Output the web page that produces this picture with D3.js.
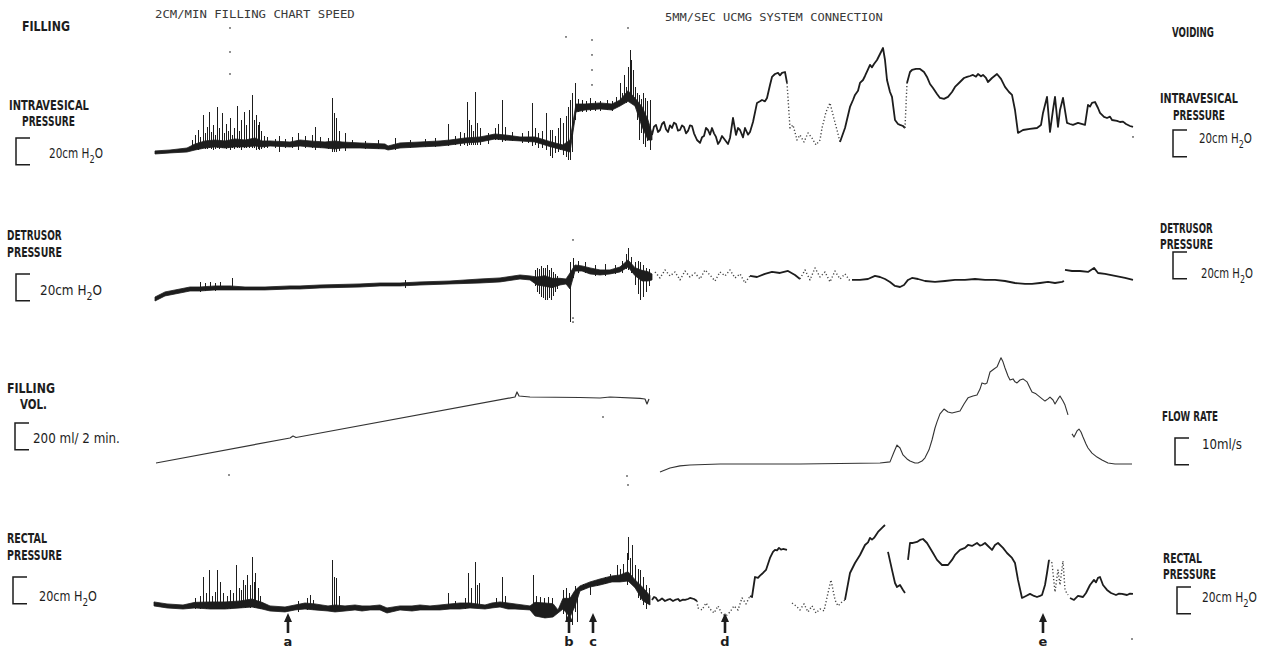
<!DOCTYPE html>
<html>
<head>
<meta charset="utf-8">
<script src="https://cdn.jsdelivr.net/npm/d3@7"></script>
<style>
  body { margin: 0; background: #fff; }
  svg { display: block; }
</style>
</head>
<body>
<svg id="chart" width="1269" height="648"></svg>
<script>
// time runs 0..1000 chart units across the paper; filling phase then voiding phase

// intravesical pressure (cm H2O), filling phase: [t, low edge, high edge] of the pen band
const ivFillBand = [[5,4.5,6.8],[20,5.3,7.5],[37,6,9],[45,7.5,12],[55,9,14.3],[65,9.8,15],[75,9,14.3],[85,9.8,15.8],[95,9.8,15],[105,10.5,16.5],[112,9.8,14.3],[120,10.5,14.3],[140,9.8,13.5],[150,10.5,15],[160,9.8,14.3],[175,9,13.5],[185,8.3,14.3],[192,9,13.5],[210,9,12.8],[235,8.3,12],[238,7.5,10.5],[250,9,12.8],[270,9.8,13.5],[290,10.5,14.3],[300,11.3,15],[315,12.8,16.5],[330,13.5,17.3],[345,15.8,19.5],[355,15,18.8],[370,14.3,17.3],[385,13.5,17.3],[398,10.5,14.3],[405,9,12.8],[413,7.5,11.3],[420,6,15],[426,36,42],[435,37.5,42],[450,38.3,42.8],[462,37.5,42],[470,40.5,45],[478,44,52],[485,40.5,46.5],[492,25,40],[498,15,30],[502,15,20]];
// pen spikes: [t, top, bottom]
const ivFillSpikes = [[42,15,8],[45,19,7.5],[48,22.5,7.5],[50,17,8],[53,33.8,9],[55,20,8],[57,25,8.3],[59,36,9],[61,21,8],[63,26.3,7.5],[65,19,8.3],[67,39.8,9],[69,24,8.3],[72,35.3,9],[74,20,9],[76,27,8.3],[78,22,9],[80,31.5,7.5],[82,19,9],[84,24,8.3],[87,40.5,9],[89,22,9],[91,30,7.5],[94,36,9],[96,26,9],[99,37.5,9],[102,48.8,9],[104,30,9],[106,33.8,7.5],[108,26,8.3],[109,28.5,7.5],[111,22,8.3],[114,18,9],[117,17,9],[125,16,9],[129,18,6],[135,15.8,9],[142,17,9],[148,20.3,7.5],[155,18,9],[162,19,9],[165,24.8,7.5],[170,17,9],[178,16.5,8],[182,46.5,6],[184,35,6],[186,31.5,6],[189,22,7],[195,20.3,6.8],[202,15,9],[215,14.5,8.3],[228,15,8],[245,16.5,7.5],[260,15,9],[275,15.8,9.8],[285,16.5,9.8],[298,27,10.5],[305,18,11],[310,21,10.5],[314,20,11],[317,43.5,10.5],[319,30,11],[321,26.3,11.3],[323,22,11],[325,51,11.3],[327,28,11],[330,24,11.3],[338,20,12],[345,24,15],[348,27,15],[352,45,13.5],[355,25,14],[362,21,14],[372,20,13],[378,22,13],[382,42.8,10.5],[385,24,11],[388,20,9],[392,22,9],[396,35.3,7.5],[400,22.5,3],[402,22.5,1.5],[405,18,5],[408,24,6],[410,31.5,7.5],[413,28,4],[416,33,2],[418,40,0],[420,45,0],[422,50,6],[425,57.8,30],[428,46,36],[432,45,36],[436,44,36],[440,46.5,36.8],[445,44,37],[450,44.5,37],[457,45,37.5],[462,44,37],[466,47,40],[470,57.8,41.3],[472,50,42],[474,63.8,45],[476,55,43],[478,70,44],[480,82.5,45],[481,75,45],[483,67.5,43.5],[485,55,40],[487,50,30],[489,48.8,15],[491,46,20],[493,50,12],[495,46.5,9.8],[497,44,14],[500,45,7.5]];
// voiding phase: [t, cm H2O]; solid pen and faint (skipping) pen runs
const ivVoidSolid = [
  [[502,18.8],[504,25],[506,26.3],[508,21],[510,22.5],[512,27],[514,28.5],[516,23],[518,21],[520,26],[522,24],[524,28],[526,27],[528,22],[530,22.5],[532,26],[534,24.8],[536,20],[538,21.8],[540,26],[542,25.5],[544,20],[547,15],[550,12.8],[552,17],[554,18],[556,24],[558,22.5],[560,19],[562,24],[564,20],[566,17.3],[568,12],[570,14.3],[572,18],[575,15],[578,12],[580,16.5],[583,31.5],[586,18.8],[588,24],[590,22.5],[593,17],[595,24],[598,19],[600,21],[603,28.5],[607,42.8],[610,44],[612,45],[615,44],[617,46.5],[620,56.3],[622,62.3],[625,64.5],[628,65.3],[630,63.5],[632,65.3],[635,66],[637,57.8]],
  [[690,13.5],[695,24],[700,39.8],[703,45],[705,48.8],[708,52],[710,57.8],[713,60],[715,63],[718,68],[720,71.3],[722,69.5],[724,72],[727,75],[730,79.5],[733,84],[735,75],[737,60],[740,51],[742,47.3],[745,30],[748,27],[750,26.3],[753,25.5],[755,24]],
  [[757,57.8],[760,66],[762,67.5],[766,68.3],[770,68.3],[774,66],[777,62.3],[780,57],[783,54],[787,49.5],[790,46.5],[794,45.8],[798,47.3],[802,51],[805,54.8],[810,58.5],[814,61.5],[817,62.3],[820,63],[823,63.8],[826,62.5],[828,64.5],[831,62.8],[833,63.8],[836,61.5],[838,58.5],[842,61.5],[847,64.5],[851,60.8],[855,54.8],[859,51],[862,48.8],[865,37.5],[868,20.3],[873,22.5],[880,23.3],[887,24],[891,26.3],[893,35.3],[897,47.3],[900,21],[903,37.5],[905,47.3],[908,24.8],[910,37.5],[913,46.5],[917,27.8],[920,27],[923,26.3],[928,27.8],[935,26.3],[938,41.3],[940,40],[942,42.8],[945,43.5],[948,39],[950,35.3],[954,32.3],[957,31.5],[960,32.5],[962,30],[967,29.3],[970,28.5],[973,28.8],[976,27],[980,25.5],[983,24.8]]
];
const ivVoidFaint = [
  [[637,57.8],[640,24],[643,26.3],[647,15],[650,18.8],[654,13.5],[658,20.3],[662,16.5],[666,11.3],[670,15],[672,24],[676,36],[680,42.8],[683,33.8],[687,22.5],[690,13.5]],
  [[755,24],[757,57.8]]
];
const ivMarks = [[80,99],[80,81],[80,64.5],[416,92.3],[442,90],[442,78.8],[442,67.5],[442,56.3],[478,99],[983,17.3]];

// detrusor pressure (cm H2O)
const detFillBand = [[5,3,6],[15,6.8,9.8],[30,9,12],[40,10.5,13.5],[50,10.5,13.5],[65,11.3,14.3],[80,11.3,14.3],[95,11.3,13.5],[115,11.3,13.5],[140,12,14.3],[150,12,14.3],[170,12.8,15],[210,13.5,15.8],[230,14.3,16.5],[250,14.3,16.5],[270,15,17.3],[300,15.8,18],[330,16.5,19.5],[350,17.3,20.3],[370,19.5,22.5],[380,18.8,21.8],[387,15,21],[395,14,22],[402,13,20],[410,15,20],[416,15.8,19.5],[420,12,24],[425,25.5,30],[432,25.5,29.3],[440,23.3,27.8],[450,22.5,26.3],[460,23.3,26.3],[470,24.8,28.5],[478,28.5,33.8],[485,22,28],[492,18,26],[498,18,25],[502,18.8,23.3]];
const detFillSpikes = [[50,17,10],[55,16.5,10.5],[60,17,11],[65,16.5,10.5],[70,17,11],[82,20.3,11.3],[255,18.8,12.8],[385,26,14],[387,28,10],[389,27,8],[391,29,6],[393,28,5],[395,27.8,4],[397,30,3.8],[399,26,5],[401,28,4],[403,25,7],[405,23,10],[407,22,12],[420,32.3,-12.8],[423,35,20],[428,33,24],[435,32,24],[445,30,22],[455,31,22],[465,30,23],[472,33,24],[476,38,27],[478,42.8,26.3],[481,36,24],[485,32,15],[488,33,8],[490,32.3,3.8],[493,30,6],[496,28,10],[499,27,14]];
const detVoidSolid = [
  [[600,21.8],[607,21],[615,23.3],[622,24.8],[630,24],[638,25.5],[645,22.5],[650,19.5]],
  [[702,18.8],[710,18.8],[718,19.5],[725,21.8],[730,21],[735,19.5],[740,17.3],[745,14.3],[750,13.5],[754,15],[758,18.8],[762,20.3],[768,19.5],[775,18],[785,17.3],[795,18],[805,18.8],[815,18.8],[825,19.5],[835,18.8],[845,18.8],[855,18],[865,16.5],[875,15.8],[882,15.8],[890,16.5],[898,17.3],[905,16.5],[912,17.3],[914,18]],
  [[915,26.3],[922,25.5],[930,25.5],[938,24.8],[944,27.8],[948,24],[955,23.3],[965,21.8],[975,20.3],[983,18.8]]
];
const detVoidFaint = [
  [[505,24.8],[510,20.3],[515,26.3],[520,21.8],[525,24.8],[530,18.8],[535,25.5],[540,21],[545,24],[550,19.5],[555,26.3],[560,22.5],[565,18],[570,24.8],[575,21.8],[580,26.3],[585,20.3],[590,23.3],[595,16.5],[600,21.8]],
  [[650,19.5],[655,26.3],[660,18.8],[665,27.8],[670,21],[675,24.8],[680,17.3],[685,25.5],[690,19.5],[695,23.3],[700,18]]
];
const detMarks = [[423,48.8],[423,-9.8],[423,-12.8]];

// filling volume (ml)
const volPoints = [[6,0],[140,187.5],[143,202.5],[146,191],[365,495],[367,532.5],[369,502.5],[380,495],[430,491],[450,487.5],[460,495],[490,484],[495,480],[497,442.5],[499,480]];
const volMarks = [[79,-90],[477,-97.5],[453,345]];

// flow rate (ml/s)
const flowRuns = [
  [[510,0],[520,1.5],[530,2.3],[540,2.6],[570,3],[650,3],[730,3.4],[740,3.8],[744,7.5],[747,10.1],[750,9],[753,6.4],[757,4.9],[760,4.1],[765,3.4],[768,3.4],[772,4.1],[775,5.3],[779,8.3],[782,12],[785,16.5],[787,18.8],[790,21.8],[794,23.6],[798,22.5],[802,22.1],[806,22.5],[810,22.9],[814,25.5],[818,27.8],[823,28.5],[827,28.9],[830,31.1],[832,33.4],[835,33],[837,33.4],[840,37.5],[844,38.6],[847,39.4],[850,42],[851,42.8],[853,41.3],[855,39],[858,36],[860,34.5],[863,34.9],[865,33.8],[867,33.4],[870,34.5],[873,34.9],[877,33.8],[880,31.5],[882,30],[886,29.3],[890,28.1],[895,26.6],[898,27.4],[900,28.1],[903,27],[905,25.5],[908,27.4],[910,28.5],[913,26.6],[915,25.1],[918,21.4]],
  [[922,14.3],[924,13.1],[927,15.4],[929,16.1],[931,15],[933,13.1],[936,10.5],[938,9],[942,7.1],[947,5.6],[952,4.5],[958,3.4],[965,3],[975,3],[982,3]]
];

// rectal pressure (cm H2O)
const recFillBand = [[4,14.3,17.3],[17,12.8,15.8],[33,12,15],[45,12.8,17],[60,12,17.3],[75,12,17.3],[90,12.8,18],[102,13.5,19.5],[112,12,17],[120,10.5,14.3],[135,9.8,13.5],[145,11.3,15],[155,12,16.5],[165,11.3,15.8],[178,10.5,14.3],[185,9.8,15],[195,10.5,14.3],[205,11.3,15],[212,10.5,14.3],[220,11.3,14.3],[230,11.3,15],[237,9,12.8],[250,11.3,14.3],[262,10.5,14.3],[270,11.3,15],[280,11.3,14.3],[290,11.3,15],[300,12,15.8],[310,12,16.5],[320,12.8,16.5],[335,12,15],[342,12.8,16.5],[350,13.5,17.3],[358,12,16.5],[365,12,15.8],[380,11.3,14.3],[385,6.8,17],[395,5.3,16.5],[403,6,16],[408,9,11.3],[413,12,20],[420,6,20],[425,14,26],[430,25.5,29.3],[440,28.5,32.3],[450,30,34.5],[462,32.3,36.8],[470,32.3,37.5],[478,33,40],[485,28,34],[493,18,28],[500,15,22]];
const recFillSpikes = [[45,20,12],[50,22,12],[53,36,14.3],[56,24,12],[59,41.3,14.3],[62,22,12],[65,25,12],[67,41.3,14.3],[70,32.3,14.3],[73,24,12],[77,22,12],[80,26,12],[83,24,12.8],[86,45,15],[89,28,13],[91,26,13],[93,33.8,14.3],[95,30,13],[97,37.5,14.3],[100,30,13],[102,51,15],[104,32,13],[105,39,15],[108,28,13],[110,22,12],[148,18,10],[157,20,11],[160,22.5,12.8],[163,19,11],[182,48.8,12.8],[184,36,12],[186,35.3,11.3],[189,22,11],[298,24,13.5],[305,18,12],[315,20,12],[318,39,14.3],[321,28,13],[325,47.3,14.3],[327,30,13],[329,31.5,14.3],[346,20,14],[352,36,15],[355,22,14],[383,37.5,11.3],[386,22,8],[390,21,6],[394,20,5],[398,21,6],[402,20,6],[413,26,8],[416,28,4],[419,24,2],[422,22,0],[425,29,10],[427,26.3,2.3],[433,31,26],[440,31.5,22.5],[447,34,29],[455,36,31],[460,38,32],[467,45,33.8],[470,42,33],[473,46,34],[477,54,30],[478,66,48.8],[480,50,34],[482,60,33.8],[485,45,28],[488,42,20],[490,41.3,18.8],[493,36,15],[496,30,12],[499,28,16]];
const recVoidSolid = [
  [[502,18.8],[504,21],[506,20.3],[508,18],[510,18.8],[512,20],[515,18],[518,19],[520,19.5],[523,18],[525,18.8],[528,19.5],[530,18],[533,19],[535,18.8],[538,19.5],[540,20.3],[544,19.5],[547,18]],
  [[600,21.8],[602,21],[605,36],[608,35.3],[610,37],[613,39],[616,41.3],[620,50.3],[623,54.8],[625,56.3],[627,56],[629,57.8],[631,56.5],[633,57],[637,56.3]],
  [[695,18.8],[700,39],[705,46.5],[710,52.5],[715,60],[718,62],[720,65.3],[722,64],[724,65.3],[728,69.8],[732,72.8],[735,75]],
  [[738,54.8],[742,41.3],[745,31.5],[747,28.5],[750,30],[753,26.3],[755,24]],
  [[758,48.8],[760,61.5],[763,61.5],[767,62.3],[770,63.8],[773,64.5],[777,61.5],[780,57.8],[783,54],[787,48.8],[792,45],[798,45],[802,48.8],[805,52.5],[810,56.3],[815,57.8],[818,60],[822,59.3],[827,61.5],[830,59.5],[832,60],[835,61.5],[837,60],[842,56.3],[845,60],[848,61.5],[853,57.8],[857,54],[862,50.3],[865,46.5],[868,33.8],[872,20.3],[876,21.8],[880,23.3],[884,21.8],[887,21],[890,21.8],[892,22.5],[895,30],[897,39],[899,48.8]],
  [[920,20.3],[924,18.8],[928,21.8],[933,21],[936,24],[940,30],[944,33.8],[946,32],[948,35.3],[950,36],[953,30],[957,26.3],[961,24],[966,22.5],[969,23.5],[972,23.3],[977,22.5],[980,23.5],[983,23.3]]
];
const recVoidFaint = [
  [[547,18],[548,12.8],[552,11.3],[556,16.5],[560,12],[564,9],[568,14.3],[572,8.3],[576,6.8],[580,9.8],[584,14.3],[588,11.3],[592,20.3],[596,15.8],[600,21.8]],
  [[642,16.5],[646,14.3],[650,11.3],[654,15.8],[658,9.8],[662,14.3],[666,9],[670,12],[674,10.5],[678,24],[681,33.8],[685,18.8],[688,14.3],[692,17.3],[695,18.8]],
  [[899,48.8],[902,46.5],[905,24.8],[908,41.3],[910,30],[913,48],[915,26.3],[918,22.5]]
];
const recMarks = [[478,105],[982,-10.5]];

// event markers under the rectal trace
const eventLabels = ["a", "b", "c", "d", "e"];
const eventTimes = [138, 419, 443, 575, 893];

const ink = "#1d1d1d";
const svg = d3.select("#chart");

const x = d3.scaleLinear().domain([0, 1000]).range([150, 1150]);
// 20 cm H2O = 26.7 px on the paper
const yIv = d3.scaleLinear().domain([0, 20]).range([160, 133.33]);
const yDet = d3.scaleLinear().domain([0, 20]).range([305, 278.33]);
const yVol = d3.scaleLinear().domain([0, 200]).range([463, 436.33]);
const yFlow = d3.scaleLinear().domain([0, 10]).range([472, 445.33]);
const yRec = d3.scaleLinear().domain([0, 20]).range([625, 598.33]);

function drawBand(band, y) {
    svg.append("path")
        .datum(band)
        .attr("d", d3.area().x(d => x(d[0])).y0(d => y(d[1])).y1(d => y(d[2])))
        .attr("fill", ink)
        .attr("stroke", ink)
        .attr("stroke-width", 0.8);
}

function drawSpikes(spikes, y) {
    svg.append("g").selectAll("line")
        .data(spikes)
        .join("line")
        .attr("x1", d => Math.round(x(d[0])) + 0.5).attr("x2", d => Math.round(x(d[0])) + 0.5)
        .attr("y1", d => y(d[1])).attr("y2", d => y(d[2]))
        .attr("stroke", ink)
        .attr("stroke-width", 1.4)
        .attr("shape-rendering", "crispEdges");
}

function drawRuns(runs, y, width, dash, color) {
    const line = d3.line().x(d => x(d[0])).y(d => y(d[1]));
    svg.append("g").selectAll("path")
        .data(runs)
        .join("path")
        .attr("d", line)
        .attr("fill", "none")
        .attr("stroke", color || ink)
        .attr("stroke-width", width)
        .attr("stroke-linejoin", "round")
        .attr("stroke-dasharray", dash || null);
}

function drawMarks(marks, y) {
    svg.append("g").selectAll("rect")
        .data(marks)
        .join("rect")
        .attr("x", d => x(d[0]) - 0.8)
        .attr("y", d => y(d[1]) - 0.8)
        .attr("width", 1.6)
        .attr("height", 1.6)
        .attr("fill", "#555");
}

// traces
drawBand(ivFillBand, yIv);
drawSpikes(ivFillSpikes, yIv);
drawRuns(ivVoidSolid, yIv, 1.8);
drawRuns(ivVoidFaint, yIv, 1.4, "1.2 2.2", "#444");
drawMarks(ivMarks, yIv);

drawBand(detFillBand, yDet);
drawSpikes(detFillSpikes, yDet);
drawRuns(detVoidSolid, yDet, 1.8);
drawRuns(detVoidFaint, yDet, 1.4, "1.2 2.2", "#444");
drawMarks(detMarks, yDet);

drawRuns([volPoints], yVol, 1.2, null, "#333");
drawMarks(volMarks, yVol);
drawRuns(flowRuns, yFlow, 1.1, null, "#333");

drawBand(recFillBand, yRec);
drawSpikes(recFillSpikes, yRec);
drawRuns(recVoidSolid, yRec, 1.8);
drawRuns(recVoidFaint, yRec, 1.4, "1.2 2.2", "#444");
drawMarks(recMarks, yRec);

// event arrows
const ev = svg.append("g").selectAll("g")
    .data(eventLabels)
    .join("g")
    .attr("transform", (d, i) => `translate(${x(eventTimes[i])},0)`);
ev.append("path")
    .attr("d", "M0,613 L4,622 L1.3,622 L1.3,633 L-1.3,633 L-1.3,622 L-4,622 Z")
    .attr("fill", ink);
ev.append("text")
    .attr("y", 646)
    .attr("text-anchor", "middle")
    .attr("font-family", "DejaVu Sans, sans-serif")
    .attr("font-weight", "bold")
    .attr("font-size", 13)
    .attr("fill", ink)
    .text(d => d);

// text helpers: squeeze text to the width it has on the paper
function fit(sel, px, py, w) {
    const bw = sel.node().getBBox().width;
    sel.attr("transform", `translate(${px},${py}) scale(${w / bw},1)`);
    return sel;
}

function label(txt, px, py, w) {
    const t = svg.append("text")
        .attr("font-family", "DejaVu Sans Condensed, DejaVu Sans, sans-serif")
        .attr("font-weight", "bold")
        .attr("font-size", 14)
        .attr("fill", ink)
        .text(txt);
    fit(t, px, py, w);
}

function unit(txt, px, py, w, sub) {
    const t = svg.append("text")
        .attr("font-family", "DejaVu Sans Condensed, DejaVu Sans, sans-serif")
        .attr("font-size", 14)
        .attr("fill", ink);
    if (sub) {
        t.append("tspan").text(txt);
        t.append("tspan").attr("dy", 4.5).attr("font-size", 11).text("2");
        t.append("tspan").attr("dy", -4.5).text("O");
    } else {
        t.text(txt);
    }
    fit(t, px, py, w);
}

function header(txt, px, py, w) {
    const t = svg.append("text")
        .attr("font-family", "DejaVu Sans Mono, monospace")
        .attr("font-size", 11)
        .attr("fill", "#3a3a3a")
        .text(txt);
    fit(t, px, py, w);
}

function bracket(px, py, y) {
    const h = Math.abs(y(0) - y(y.domain()[1]));
    svg.append("path")
        .attr("d", `M${px + 14},${py} H${px} V${py + h} H${px + 14}`)
        .attr("fill", "none")
        .attr("stroke", ink)
        .attr("stroke-width", 1.5);
}

header("2CM/MIN FILLING CHART SPEED", 155, 18, 200);
header("5MM/SEC UCMG SYSTEM CONNECTION", 665, 21, 218);

label("FILLING", 22, 31, 48);
label("INTRAVESICAL", 9, 110, 80);
label("PRESSURE", 22, 126, 53);
label("DETRUSOR", 7, 240, 55);
label("PRESSURE", 7, 257, 55);
label("FILLING", 7, 393, 48);
label("VOL.", 20, 409, 27);
label("RECTAL", 7, 543, 40);
label("PRESSURE", 7, 560, 55);

label("VOIDING", 1172, 37, 42);
label("INTRAVESICAL", 1160, 103, 78);
label("PRESSURE", 1173, 120, 52);
label("DETRUSOR", 1160, 233, 53);
label("PRESSURE", 1160, 249, 53);
label("FLOW RATE", 1162, 421, 56);
label("RECTAL", 1163, 563, 39);
label("PRESSURE", 1163, 579, 53);

bracket(16, 138, yIv);
bracket(16, 274, yDet);
bracket(15, 423, yVol);
bracket(13, 577, yRec);
bracket(1173, 130, yIv);
bracket(1173, 252, yDet);
bracket(1175, 438, yFlow);
bracket(1177, 587, yRec);

unit("20cm H", 49, 158, 54, true);
unit("20cm H", 40, 295, 62, true);
unit("200 ml/ 2 min.", 33, 443, 87);
unit("20cm H", 39, 601, 58, true);
unit("20cm H", 1199, 143, 53, true);
unit("20cm H", 1201, 278, 52, true);
unit("10ml/s", 1202, 449, 40);
unit("20cm H", 1202, 602, 55, true);
</script>
</body>
</html>
